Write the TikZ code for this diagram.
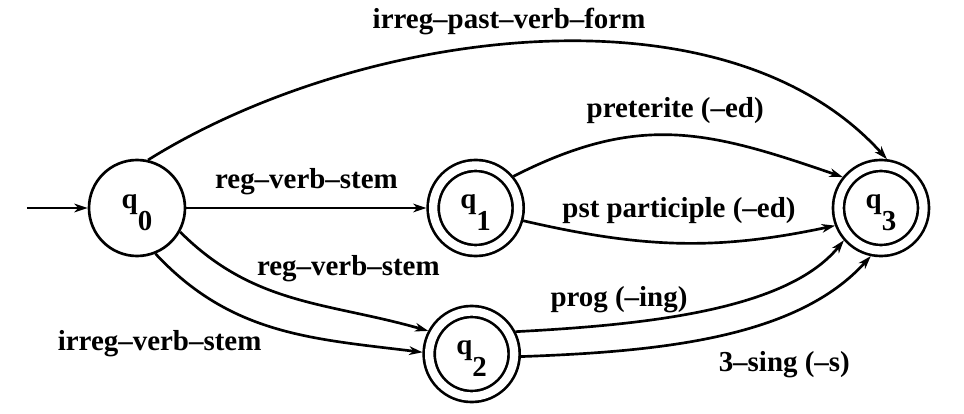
\documentclass[tikz,border=0pt]{standalone}
\usepackage{fontspec}
\setmainfont{Liberation Serif}
\usepackage{tikz}
\usetikzlibrary{arrows.meta, positioning}

\newcommand{\qsub}[1]{\rule{0pt}{0.8em}q\raisebox{-0.78em}{#1}}

\begin{document}
\begin{tikzpicture}[on grid, >={Stealth[length=10pt,width=6.5pt,inset=3pt]}, line width=2pt, font=\rmfamily\bfseries\fontsize{21.7}{26}\selectfont]

    % Define styles
    \tikzstyle{plainstate} = [circle, draw=black, minimum size=72pt, inner sep=0pt]
    \tikzstyle{finalstate} = [circle, draw=black, double, double distance=6.25pt, minimum size=63.75pt, inner sep=0pt, outer sep=5pt]

    % Nodes
    \node (q0) [plainstate] {\qsub{0}};
    \node (q1) [finalstate, right=254pt of q0] {\qsub{1}};
    \node (q2) [finalstate, below=109.5pt of q1, xshift=-3pt] {\qsub{2}};
    \node (q3) [finalstate, right=304pt of q1] {\qsub{3}};
    \coordinate [left=82.5pt of q0] (start);

    \useasboundingbox (-102.75pt,-154.5pt) rectangle (620.25pt,156pt);

    % Arrows
    \draw [->] (start) -- (q0);
    \draw [->] (q0) -- node[above=5.5pt] {reg--verb--stem} (q1);
    \draw [->] (q0.77) to[out=32, in=132, looseness=0.85] node[pos=0.47, above=2.5pt] {irreg--past--verb--form} (q3.83);
    \draw [->] (q1.40) to[out=27, in=161, looseness=1.1] node[above=4pt] {preterite (--ed)} (q3.141);
    \draw [->] (q1.-15) to[out=-13, in=192] node[above=10pt] {pst participle (--ed)} (q3.201);
    \draw [->] (q0.-29) to[out=-45, in=164] node[pos=0.7, above=17pt, xshift=3pt] {reg--verb--stem} (q2.152);
    \draw [->] (q0.-68) to[out=-47, in=173] node[pos=0.45, anchor=north east, xshift=3pt] {irreg--verb--stem} (q2.178);
    \draw [->] (q2.27) to[out=3, in=231, out distance=100pt, in distance=67pt] node[pos=0.26, above=4pt] {prog (--ing)} (q3.221);
    \draw [->] (q2.-3) to[out=2, in=228, out distance=107pt, in distance=82pt] node[pos=0.67, below=22pt, xshift=3pt] {3--sing (--s)} (q3.258);

\end{tikzpicture}
\end{document}
